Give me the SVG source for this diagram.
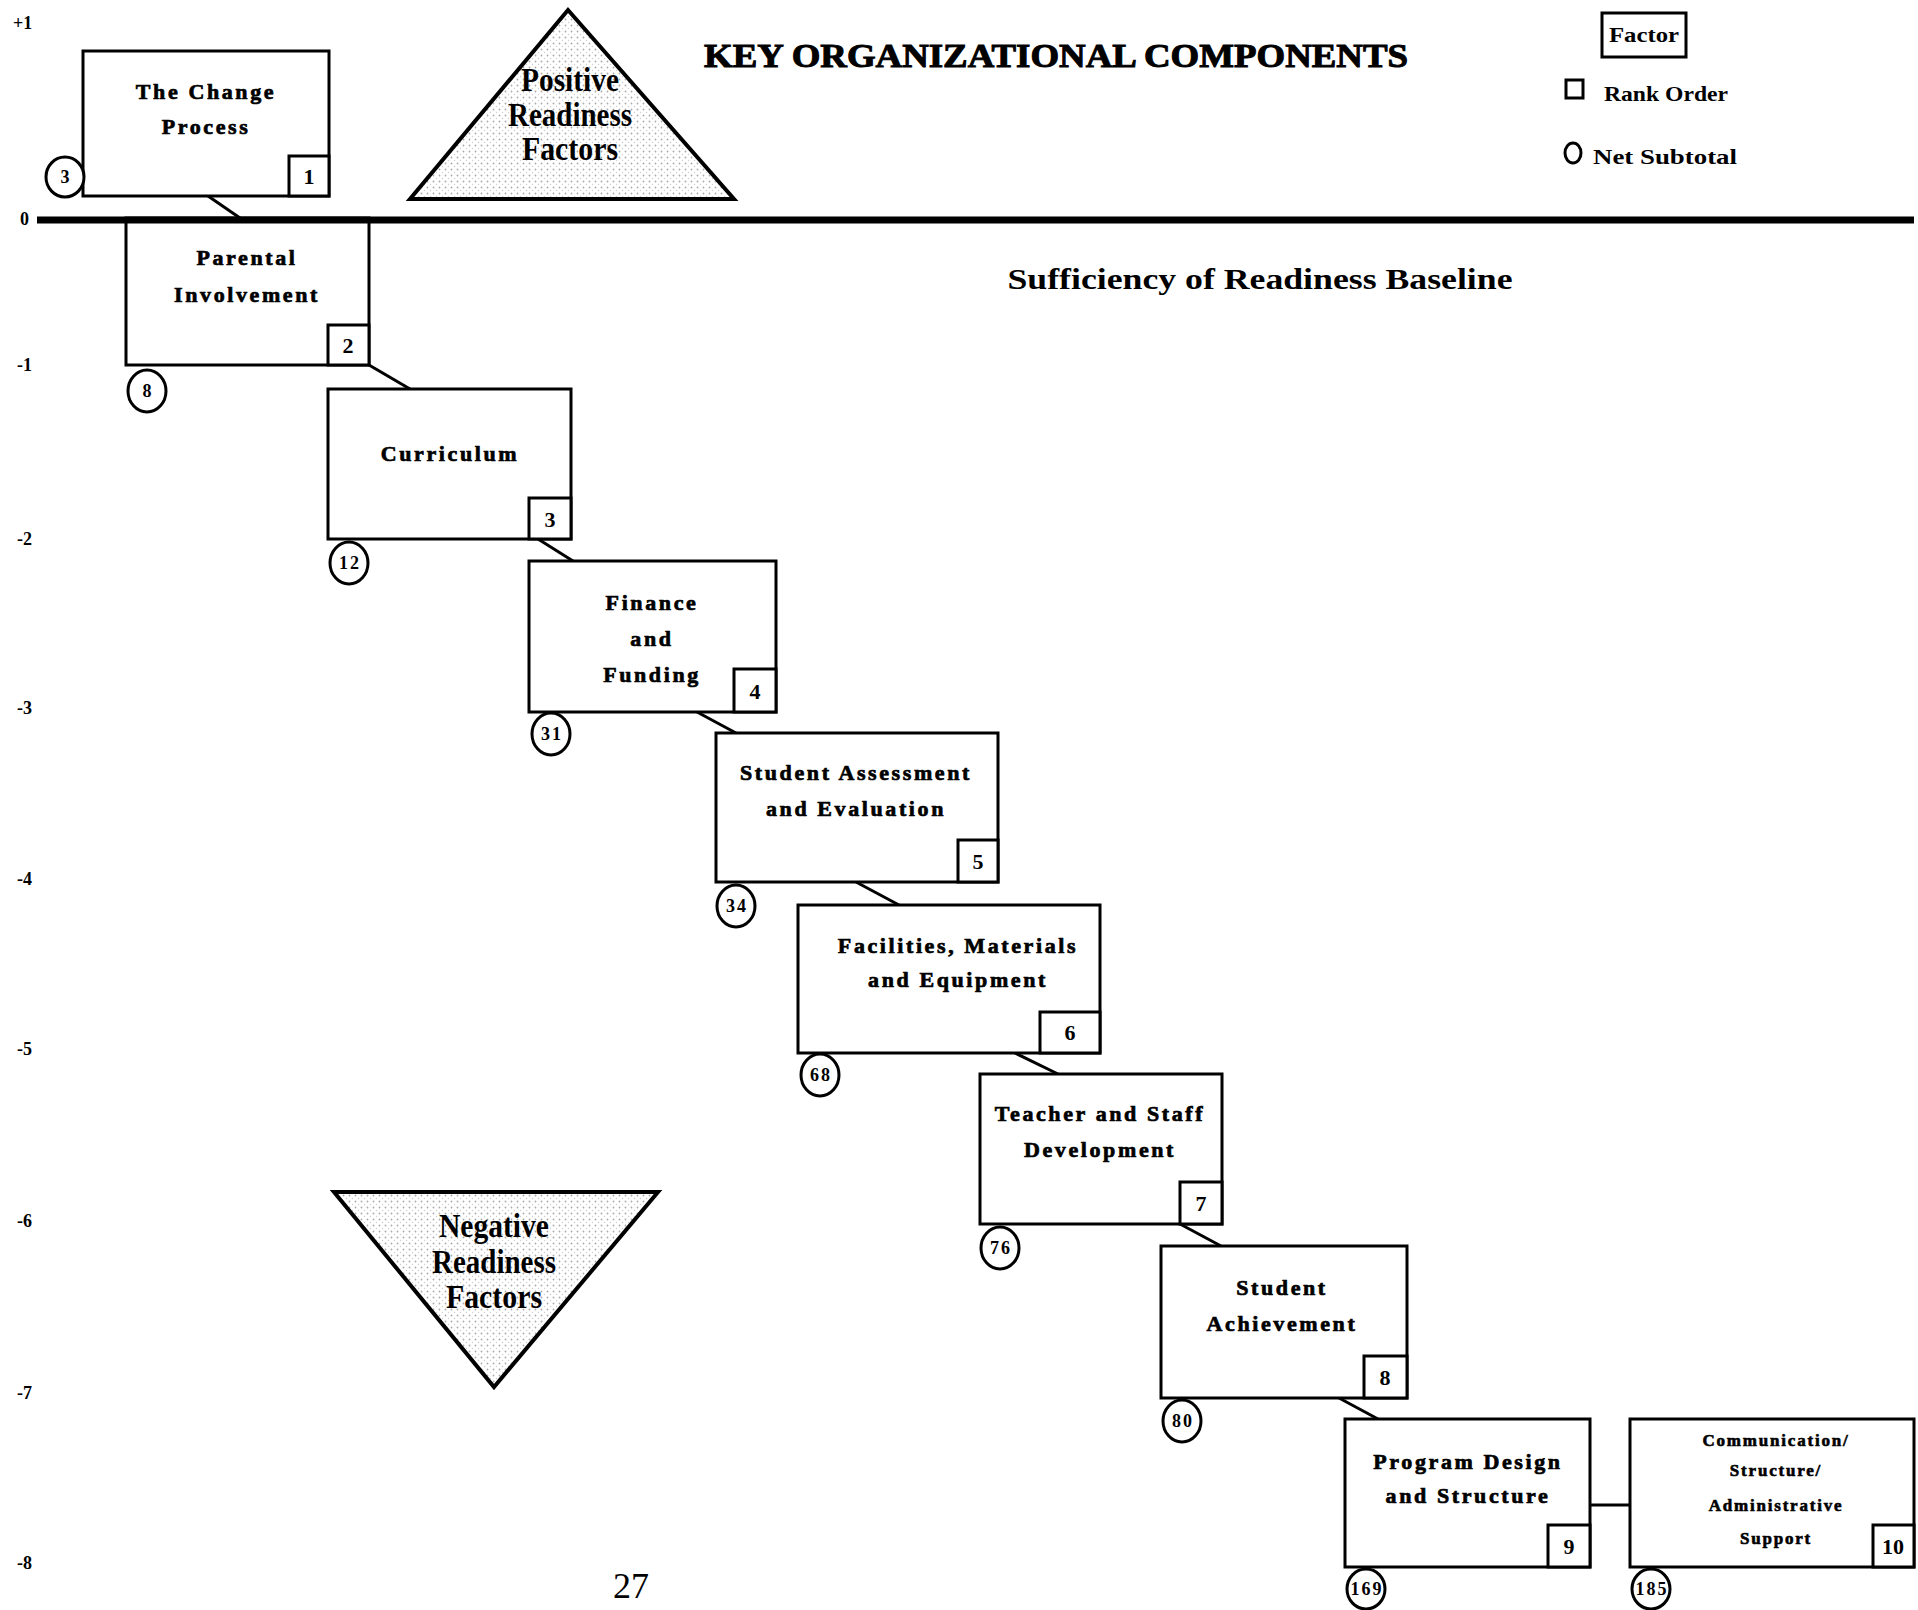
<svg xmlns="http://www.w3.org/2000/svg" width="1918" height="1610" viewBox="0 0 1918 1610">
<style>
.box{fill:#fff;stroke:#000;stroke-width:3}
.rk{fill:#fff;stroke:#000;stroke-width:3}
.cir{fill:#fff;stroke:#000;stroke-width:3}
.con{stroke:#000;stroke-width:3;fill:none}
.lbl{font-family:"Liberation Serif",serif;font-weight:bold;font-size:22px;letter-spacing:2.6px;text-anchor:middle;fill:#000;stroke:#000;stroke-width:0.7px}
.sm{font-size:17px;letter-spacing:1.8px;stroke-width:0.6px}
.num{font-family:"Liberation Serif",serif;font-weight:bold;font-size:22px;text-anchor:middle;fill:#000}
.cn{font-family:"Liberation Serif",serif;font-weight:bold;font-size:18px;text-anchor:middle;letter-spacing:2px;fill:#000}
.ax{font-family:"Liberation Serif",serif;font-weight:bold;font-size:18px;fill:#000}
.tri{fill:url(#stip);stroke:#000;stroke-width:4;stroke-linejoin:miter}
.tt{font-family:"Liberation Serif",serif;font-weight:bold;font-size:33px;text-anchor:middle;fill:#000}
.cond{font-family:"Liberation Serif",serif;font-weight:bold;fill:#000}
</style>
<defs>
<pattern id="stip" width="6" height="6" patternUnits="userSpaceOnUse">
<rect width="6" height="6" fill="#fff"/>
<circle cx="1.5" cy="1.5" r="0.9" fill="#aaa"/>
<circle cx="4.5" cy="4.5" r="0.7" fill="#ccc"/>
</pattern>
</defs>
<rect width="1918" height="1610" fill="#fff"/>

<!-- axis labels -->
<g id="axis">
<text class="ax" x="13" y="29">+1</text>
<text class="ax" x="20" y="225">0</text>
<text class="ax" x="17" y="371">-1</text>
<text class="ax" x="17" y="545">-2</text>
<text class="ax" x="17" y="714">-3</text>
<text class="ax" x="17" y="885">-4</text>
<text class="ax" x="17" y="1055">-5</text>
<text class="ax" x="17" y="1227">-6</text>
<text class="ax" x="17" y="1399">-7</text>
<text class="ax" x="17" y="1569">-8</text>
</g>

<!-- title and legend -->
<g id="title">
<text class="cond" x="1056" y="67" font-size="34" text-anchor="middle" textLength="704" lengthAdjust="spacingAndGlyphs" stroke="#000" stroke-width="1">KEY  ORGANIZATIONAL  COMPONENTS</text>
</g>
<g id="legend">
<rect x="1602" y="13" width="84" height="44" fill="#fff" stroke="#000" stroke-width="3"/>
<text class="cond" x="1644" y="42" font-size="22" text-anchor="middle" textLength="70" lengthAdjust="spacingAndGlyphs">Factor</text>
<rect x="1566" y="80" width="17" height="18" fill="#fff" stroke="#000" stroke-width="3"/>
<text class="cond" x="1604" y="101" font-size="21" textLength="124" lengthAdjust="spacingAndGlyphs">Rank Order</text>
<ellipse cx="1573" cy="153" rx="8" ry="10" fill="#fff" stroke="#000" stroke-width="3"/>
<text class="cond" x="1593" y="164" font-size="21" textLength="144" lengthAdjust="spacingAndGlyphs">Net  Subtotal</text>
</g>

<g id="baseline-label">
<text class="cond" x="1260" y="289" font-size="30" text-anchor="middle" textLength="505" lengthAdjust="spacingAndGlyphs">Sufficiency of Readiness Baseline</text>
</g>

<!-- triangles -->
<g id="positive">
<polygon class="tri" points="568,10 410,199 734,199"/>
<text class="tt" x="570" y="91" textLength="98" lengthAdjust="spacingAndGlyphs">Positive</text>
<text class="tt" x="570" y="126" textLength="124" lengthAdjust="spacingAndGlyphs">Readiness</text>
<text class="tt" x="570" y="160" textLength="96" lengthAdjust="spacingAndGlyphs">Factors</text>
</g>
<g id="negative">
<polygon class="tri" points="334,1192 658,1192 494,1387"/>
<text class="tt" x="494" y="1237" textLength="110" lengthAdjust="spacingAndGlyphs">Negative</text>
<text class="tt" x="494" y="1273" textLength="124" lengthAdjust="spacingAndGlyphs">Readiness</text>
<text class="tt" x="494" y="1308" textLength="96" lengthAdjust="spacingAndGlyphs">Factors</text>
</g>

<!-- connectors -->
<g id="connectors">
<line class="con" x1="208" y1="196" x2="240" y2="218"/>
<line class="con" x1="369" y1="365" x2="410" y2="389"/>
<line class="con" x1="538" y1="539" x2="573" y2="561"/>
<line class="con" x1="697" y1="712" x2="736" y2="733"/>
<line class="con" x1="856" y1="882" x2="899" y2="905"/>
<line class="con" x1="1015" y1="1053" x2="1058" y2="1074"/>
<line class="con" x1="1180" y1="1224" x2="1221" y2="1246"/>
<line class="con" x1="1339" y1="1398" x2="1378" y2="1419"/>
<line class="con" x1="1590" y1="1505" x2="1630" y2="1505"/>
</g>

<!-- nodes -->
<g id="n1">
<rect class="box" x="83" y="51" width="246" height="145"/>
<text class="lbl" x="206" y="99">The  Change</text>
<text class="lbl" x="206" y="134">Process</text>
<rect class="rk" x="289" y="156" width="40" height="40"/>
<text class="num" x="309" y="184">1</text>
<ellipse class="cir" cx="65" cy="177" rx="19" ry="20"/>
<text class="cn" x="66" y="183">3</text>
</g>
<g id="n2">
<rect class="box" x="126" y="218" width="243" height="147"/>
<text class="lbl" x="247" y="265">Parental</text>
<text class="lbl" x="247" y="302">Involvement</text>
<rect class="rk" x="328" y="325" width="41" height="40"/>
<text class="num" x="348" y="353">2</text>
<ellipse class="cir" cx="147" cy="391" rx="19" ry="21"/>
<text class="cn" x="148" y="397">8</text>
</g>
<g id="n3">
<rect class="box" x="328" y="389" width="243" height="150"/>
<text class="lbl" x="450" y="461">Curriculum</text>
<rect class="rk" x="529" y="498" width="42" height="41"/>
<text class="num" x="550" y="527">3</text>
<ellipse class="cir" cx="349" cy="563" rx="19" ry="21"/>
<text class="cn" x="350" y="569">12</text>
</g>
<g id="n4">
<rect class="box" x="529" y="561" width="247" height="151"/>
<text class="lbl" x="652" y="610">Finance</text>
<text class="lbl" x="652" y="646">and</text>
<text class="lbl" x="652" y="682">Funding</text>
<rect class="rk" x="734" y="669" width="42" height="43"/>
<text class="num" x="755" y="699">4</text>
<ellipse class="cir" cx="551" cy="734" rx="19" ry="21"/>
<text class="cn" x="552" y="740">31</text>
</g>
<g id="n5">
<rect class="box" x="716" y="733" width="282" height="149"/>
<text class="lbl" x="856" y="780">Student   Assessment</text>
<text class="lbl" x="856" y="816">and  Evaluation</text>
<rect class="rk" x="958" y="840" width="40" height="42"/>
<text class="num" x="978" y="869">5</text>
<ellipse class="cir" cx="736" cy="906" rx="19" ry="21"/>
<text class="cn" x="737" y="912">34</text>
</g>
<g id="n6">
<rect class="box" x="798" y="905" width="302" height="148"/>
<text class="lbl" x="958" y="953">Facilities,   Materials</text>
<text class="lbl" x="958" y="987">and  Equipment</text>
<rect class="rk" x="1040" y="1012" width="60" height="41"/>
<text class="num" x="1070" y="1040">6</text>
<ellipse class="cir" cx="820" cy="1075" rx="19" ry="21"/>
<text class="cn" x="821" y="1081">68</text>
</g>
<g id="n7">
<rect class="box" x="980" y="1074" width="242" height="150"/>
<text class="lbl" x="1100" y="1121">Teacher  and  Staff</text>
<text class="lbl" x="1100" y="1157">Development</text>
<rect class="rk" x="1180" y="1182" width="42" height="42"/>
<text class="num" x="1201" y="1211">7</text>
<ellipse class="cir" cx="1000" cy="1248" rx="19" ry="21"/>
<text class="cn" x="1001" y="1254">76</text>
</g>
<g id="n8">
<rect class="box" x="1161" y="1246" width="246" height="152"/>
<text class="lbl" x="1282" y="1295">Student</text>
<text class="lbl" x="1282" y="1331">Achievement</text>
<rect class="rk" x="1364" y="1356" width="43" height="42"/>
<text class="num" x="1385" y="1385">8</text>
<ellipse class="cir" cx="1182" cy="1421" rx="19" ry="21"/>
<text class="cn" x="1183" y="1427">80</text>
</g>
<g id="n9">
<rect class="box" x="1345" y="1419" width="245" height="148"/>
<text class="lbl" x="1468" y="1469">Program   Design</text>
<text class="lbl" x="1468" y="1503">and  Structure</text>
<rect class="rk" x="1548" y="1525" width="42" height="42"/>
<text class="num" x="1569" y="1554">9</text>
<ellipse class="cir" cx="1366" cy="1589" rx="19" ry="20"/>
<text class="cn" x="1367" y="1595">169</text>
</g>
<g id="n10">
<rect class="box" x="1630" y="1419" width="284" height="148"/>
<text class="lbl sm" x="1776" y="1446">Communication/</text>
<text class="lbl sm" x="1776" y="1476">Structure/</text>
<text class="lbl sm" x="1776" y="1511">Administrative</text>
<text class="lbl sm" x="1776" y="1544">Support</text>
<rect class="rk" x="1873" y="1525" width="41" height="42"/>
<text class="num" x="1893" y="1554">10</text>
<ellipse class="cir" cx="1651" cy="1589" rx="19" ry="20"/>
<text class="cn" x="1652" y="1595">185</text>
</g>

<!-- baseline -->
<g id="baseline">
<line x1="37" y1="220" x2="1914" y2="220" stroke="#000" stroke-width="7"/>
</g>

<text x="631" y="1598" font-family="Liberation Serif, serif" font-size="36" text-anchor="middle" fill="#000">27</text>
</svg>
